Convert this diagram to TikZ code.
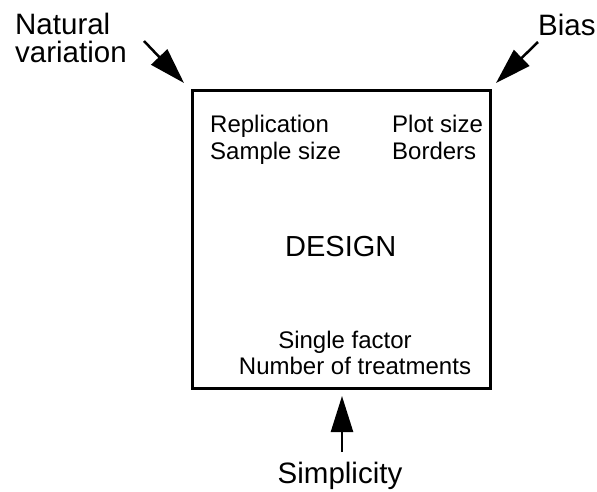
\documentclass[tikz,border=0pt]{standalone}
\usepackage{fontspec}
\setmainfont{Liberation Sans}
\usetikzlibrary{arrows.meta}

\tikzset{
  bigtext/.style={inner sep=0pt, font=\fontsize{29.5}{34}\selectfont},
  smalltext/.style={inner sep=0pt, font=\fontsize{24}{28}\selectfont},
  fatarrow/.style={line width=2.5pt, -{Triangle[length=36pt,width=22pt]}}
}

\begin{document}
\begin{tikzpicture}[x=1pt,y=-1pt]
    \useasboundingbox (0,0) rectangle (597,491);

    % Draw the box
    \node[draw, line width=3pt, minimum width=298pt, minimum height=298pt, inner sep=0pt] (design) at (341,239) {};
    \node[anchor=base west, inner sep=0pt, font=\fontsize{29}{32}\selectfont] (title) at (285,256) {DESIGN};

    % Text inside the box
    \node[smalltext, anchor=base west] (repl) at (210,132) {Replication};
    \node[smalltext, anchor=base west] (samp) at (210,159) {Sample size};
    \node[smalltext, anchor=base west] (plot) at (392,132) {Plot size};
    \node[smalltext, anchor=base west] (bord) at (392,159) {Borders};
    \node[smalltext, anchor=base] (single) at (345,348) {Single factor};
    \node[smalltext, anchor=base] (number) at (355,374) {Number of treatments};

    % Outside labels
    \node[bigtext, anchor=base west] (nat) at (15,34) {Natural};
    \node[bigtext, anchor=base west] (var) at (15,62) {variation};
    \node[bigtext, anchor=base west] (bias) at (538,35) {Bias};
    \node[bigtext, anchor=base] (simp) at (340,483) {Simplicity};

    % Arrows
    \coordinate (natTail) at (144,41);
    \coordinate (natTip) at (184,83);
    \coordinate (biasTail) at (538,42);
    \coordinate (biasTip) at (496,83);
    \coordinate (simpTail) at (342,452);
    \coordinate (simpTip) at (342,396);
    \draw[fatarrow] (natTail) -- (natTip);
    \draw[fatarrow] (biasTail) -- (biasTip);
    \draw[fatarrow] (simpTail) -- (simpTip);
\end{tikzpicture}
\end{document}
